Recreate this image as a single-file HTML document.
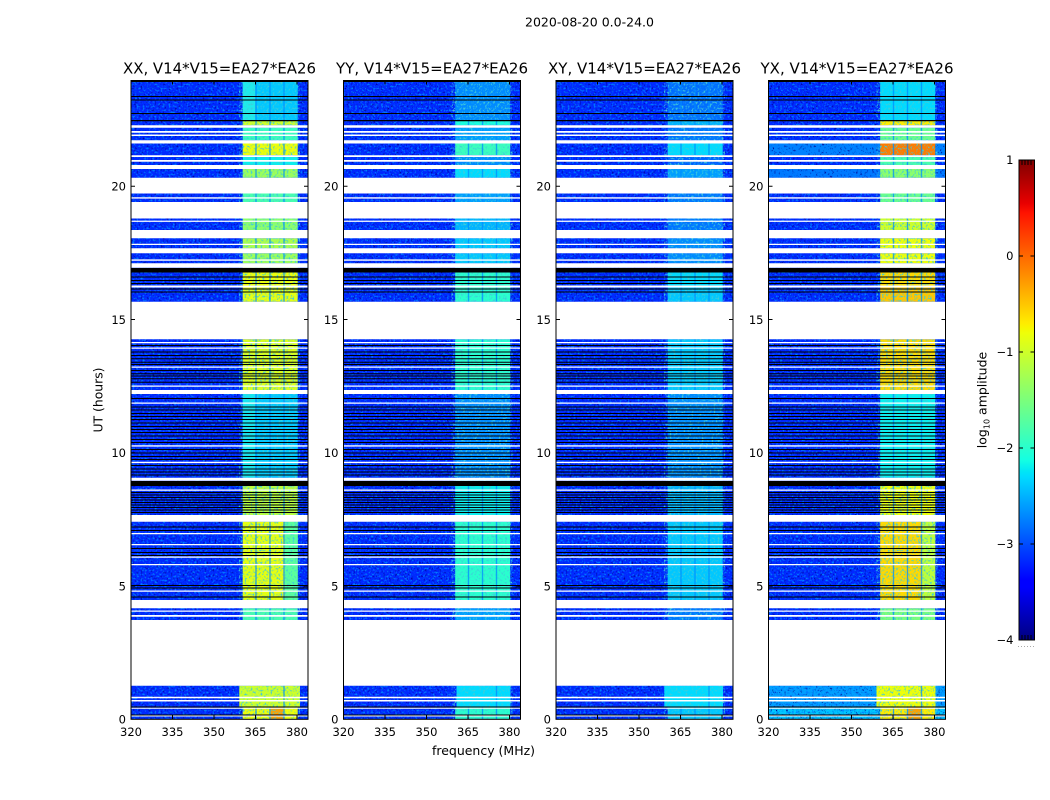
<!DOCTYPE html>
<html><head><meta charset="utf-8"><style>
html,body{margin:0;padding:0;background:#fff;}
svg{display:block;}
text{font-family:"DejaVu Sans","Liberation Sans",sans-serif;fill:#000;}
.tk{font-size:11.5px;}
</style></head><body>
<svg width="1050" height="800" viewBox="0 0 1050 800" xmlns="http://www.w3.org/2000/svg">
<defs>
<filter id="spk" x="0" y="0" width="1" height="1" color-interpolation-filters="sRGB">
<feTurbulence type="fractalNoise" baseFrequency="0.5" numOctaves="2" seed="3" result="t"/>
<feColorMatrix in="t" type="matrix" values="0 0 0 0 0  0 0 0 0 0  0 0 0 0 0.55  3.5 0 0 0 -2.0" result="d"/>
<feColorMatrix in="t" type="matrix" values="0 0 0 0 0  0 0 0 0 0.5  0 0 0 0 1  0 4 0 0 -2.05" result="l"/>
<feMerge><feMergeNode in="d"/><feMergeNode in="l"/></feMerge>
</filter>
<filter id="bspk" x="0" y="0" width="1" height="1" color-interpolation-filters="sRGB">
<feTurbulence type="fractalNoise" baseFrequency="0.5" numOctaves="2" seed="9" result="t"/>
<feColorMatrix in="t" type="matrix" values="0 0 0 0 0.25  0 0 0 0 0.8  0 0 0 0 0.85  4 0 0 0 -2.05"/>
</filter>
<linearGradient id="jet" x1="0" y1="1" x2="0" y2="0">
<stop offset="0" stop-color="#000080"/>
<stop offset="0.11" stop-color="#0000ff"/>
<stop offset="0.125" stop-color="#0000ff"/>
<stop offset="0.34" stop-color="rgb(0,219,255)"/>
<stop offset="0.35" stop-color="rgb(0,229,247)"/>
<stop offset="0.375" stop-color="rgb(20,255,226)"/>
<stop offset="0.64" stop-color="rgb(239,255,8)"/>
<stop offset="0.65" stop-color="rgb(247,246,0)"/>
<stop offset="0.66" stop-color="rgb(255,236,0)"/>
<stop offset="0.89" stop-color="rgb(255,19,0)"/>
<stop offset="0.91" stop-color="rgb(232,0,0)"/>
<stop offset="1" stop-color="rgb(128,0,0)"/>
</linearGradient>
<g id="ov">
<path fill="#fff" d="M0 125.3h177v2.4H0z M0 131h177v1.7H0z M0 134.5h177v1.5H0z M0 140.2h177v3.3H0z M0 155.2h177v1.8H0z M0 160h177v1.7H0z M0 165h177v4H0z M0 177.7h177v15.8H0z M0 197.3h177v1.3H0z M0 202h177v16.5H0z M0 220.6h177v1.3H0z M0 230h177v8.3H0z M0 243.7h177v1.3H0z M0 248.3h177v5H0z M0 259.4h177v1.3H0z M0 263.3h177v4.4H0z M0 285.5h177v2H0z M0 301.7h177v37.6H0z M0 342h177v1.3H0z M0 347.5h177v1.3H0z M0 366.5h177v1.3H0z M0 385.5h177v1.3H0z M0 390h177v4H0z M0 402.5h177v1.3H0z M0 445.3h177v1.3H0z M0 461.8h177v1.3H0z M0 477.7h177v3H0z M0 489.5h177v1.3H0z M0 515h177v6.7H0z M0 533h177v1.3H0z M0 544h177v1.3H0z M0 556.5h177v1.3H0z M0 564h177v1.3H0z M0 590.5h177v1.3H0z M0 600h177v8.3H0z M0 610.5h177v1.3H0z M0 615h177v1.7H0z M0 620h177v65.7H0z M0 696.7h177v1.6H0z M0 700h177v1.5H0z M0 707.7h177v1H0z M0 715.5h177v1H0z"/>
<path fill="#000" d="M0 81h177v1H0z M0 96h177v1H0z M0 99.5h177v1H0z M0 113h177v1H0z M0 120h177v1.3H0z M0 268h177v4.5H0z M0 276.5h177v1H0z M0 280h177v1H0z M0 283h177v1H0z M0 288.5h177v1H0z M0 291.5h177v1H0z M0 345h177v1H0z M0 351.5h177v1H0z M0 355h177v1H0z M0 358.3h177v1H0z M0 361.7h177v1H0z M0 364h177v1H0z M0 370h177v1H0z M0 373.3h177v1H0z M0 375.5h177v1H0z M0 378.3h177v1H0z M0 381.7h177v1H0z M0 398h177v1H0z M0 406.5h177v1H0z M0 409.5h177v1H0z M0 413h177v1H0z M0 416h177v1H0z M0 419h177v1H0z M0 422.5h177v1H0z M0 426h177v1H0z M0 429h177v1H0z M0 432h177v1H0z M0 435.5h177v1H0z M0 439h177v1H0z M0 442h177v1H0z M0 449h177v1H0z M0 452.5h177v1H0z M0 456h177v1H0z M0 459h177v1H0z M0 465h177v1H0z M0 468.5h177v1H0z M0 471.5h177v1H0z M0 474.5h177v1H0z M0 481h177v5H0z M0 492h177v1H0z M0 494.5h177v1H0z M0 497h177v1H0z M0 499.5h177v1H0z M0 502h177v1H0z M0 504.5h177v1H0z M0 507h177v1H0z M0 509.5h177v1H0z M0 512h177v1H0z M0 526.5h177v1H0z M0 530h177v1H0z M0 548h177v1H0z M0 552h177v1H0z M0 555h177v1H0z M0 585h177v1H0z M0 587.5h177v1H0z M0 596.5h177v1H0z M0 706.5h177v1H0z M0 714.5h177v1H0z"/>
</g>
<path id="sep" fill="rgba(0,140,255,0.75)" d="M124.3 80.5h1.4v605h-1.4z M138.3 80.5h1.4v605h-1.4z M152.3 80.5h1.4v638.8h-1.4z M124.3 707.5h1.4v11.8h-1.4z M138.3 707.5h1.4v11.8h-1.4z"/>
<g id="frm">
<rect x="0" y="80.5" width="177" height="638.8" fill="none" stroke="#000" stroke-width="1"/>
<path d="M0 586.05h4M173 586.05h4M0 452.8h4M173 452.8h4M0 319.55h4M173 319.55h4M0 186.3h4M173 186.3h4M41.5 719.3v-4M83 719.3v-4M124.5 719.3v-4M166 719.3v-4M41.5 80.5v4M83 80.5v4M124.5 80.5v4M166 80.5v4" stroke="#000" stroke-width="1" fill="none"/>
<g class="tk" text-anchor="end">
<text x="-5" y="723.6">0</text>
<text x="-5" y="590.4">5</text>
<text x="-5" y="457.1">10</text>
<text x="-5" y="323.9">15</text>
<text x="-5" y="190.6">20</text>
</g>
<g class="tk" text-anchor="middle">
<text x="0" y="736">320</text>
<text x="41.5" y="736">335</text>
<text x="83" y="736">350</text>
<text x="124.5" y="736">365</text>
<text x="166" y="736">380</text>
</g>
</g>
</defs>

<text x="589.5" y="26.5" font-size="12.5" text-anchor="middle" textLength="129" lengthAdjust="spacingAndGlyphs">2020-08-20 0.0-24.0</text>

<g transform="translate(131,0)">
<rect x="0" y="80.5" width="177" height="638.8" fill="rgb(0,40,255)"/>
<rect x="0" y="80.5" width="177" height="638.8" fill="#000" filter="url(#spk)"/>
<rect x="111.7" y="80.5" width="55" height="40" fill="rgb(0,199,255)"/>
<rect x="111.7" y="80.5" width="12.6" height="40" fill="rgb(30,235,235)"/>
<rect x="111.7" y="120.5" width="55" height="4.8" fill="rgb(206,255,41)"/>
<rect x="111.7" y="127.7" width="55" height="12.5" fill="rgb(58,255,189)"/>
<rect x="111.7" y="143.5" width="55" height="11.7" fill="rgb(239,255,8)"/>
<rect x="111.7" y="157" width="55" height="8" fill="rgb(8,240,239)"/>
<rect x="111.7" y="169" width="55" height="8.7" fill="rgb(156,255,90)"/>
<rect x="111.7" y="193.5" width="55" height="8.5" fill="rgb(74,255,173)"/>
<rect x="111.7" y="218.5" width="55" height="11.5" fill="rgb(140,255,107)"/>
<rect x="111.7" y="238.3" width="55" height="10" fill="rgb(173,255,74)"/>
<rect x="111.7" y="253.3" width="55" height="10" fill="rgb(156,255,90)"/>
<rect x="111.7" y="267.7" width="55" height="19.8" fill="rgb(239,255,8)"/>
<rect x="111.7" y="287.5" width="55" height="14.2" fill="rgb(230,255,16)"/>
<rect x="111.7" y="339.3" width="55" height="50.7" fill="rgb(222,255,25)"/>
<rect x="111.7" y="394" width="55" height="83.7" fill="rgb(0,199,255)"/>
<rect x="111.7" y="394" width="12.6" height="83.7" fill="rgb(20,230,240)"/>
<rect x="111.7" y="480.7" width="55" height="34.3" fill="rgb(189,255,58)"/>
<rect x="111.7" y="521.7" width="55" height="78.3" fill="rgb(230,255,16)"/>
<rect x="153.7" y="521.7" width="13" height="78.3" fill="rgb(90,255,156)"/>
<rect x="111.7" y="608.3" width="55" height="11.7" fill="rgb(74,255,173)"/>
<rect x="108.3" y="685.7" width="60.7" height="21.8" fill="rgb(206,255,41)"/>
<rect x="111.7" y="707.5" width="55" height="11.8" fill="rgb(239,255,8)"/>
<rect x="139.7" y="707.5" width="12.6" height="11.8" fill="rgb(255,161,0)"/>
<rect x="108.3" y="80.5" width="60.7" height="638.8" fill="#000" filter="url(#bspk)"/>
<use href="#sep"/>
<use href="#ov"/>
<use href="#frm"/>
<text x="88.5" y="73.5" font-size="15" text-anchor="middle" textLength="193" lengthAdjust="spacingAndGlyphs">XX, V14*V15=EA27*EA26</text>
</g>

<g transform="translate(343.5,0)">
<rect x="0" y="80.5" width="177" height="638.8" fill="rgb(0,40,255)"/>
<rect x="0" y="80.5" width="177" height="638.8" fill="#000" filter="url(#spk)"/>
<rect x="111.7" y="80.5" width="55" height="40" fill="rgb(0,138,255)"/>
<rect x="111.7" y="120.5" width="55" height="4.8" fill="rgb(25,255,222)"/>
<rect x="111.7" y="127.7" width="55" height="12.5" fill="rgb(0,158,255)"/>
<rect x="111.7" y="143.5" width="55" height="11.7" fill="rgb(58,255,189)"/>
<rect x="111.7" y="157" width="55" height="8" fill="rgb(0,138,255)"/>
<rect x="111.7" y="169" width="55" height="8.7" fill="rgb(0,219,255)"/>
<rect x="111.7" y="193.5" width="55" height="8.5" fill="rgb(0,158,255)"/>
<rect x="111.7" y="218.5" width="55" height="11.5" fill="rgb(0,179,255)"/>
<rect x="111.7" y="238.3" width="55" height="10" fill="rgb(0,199,255)"/>
<rect x="111.7" y="253.3" width="55" height="10" fill="rgb(0,199,255)"/>
<rect x="111.7" y="267.7" width="55" height="19.8" fill="rgb(41,255,206)"/>
<rect x="111.7" y="287.5" width="55" height="14.2" fill="rgb(41,255,206)"/>
<rect x="111.7" y="339.3" width="55" height="50.7" fill="rgb(41,255,206)"/>
<rect x="111.7" y="394" width="55" height="83.7" fill="rgb(0,138,255)"/>
<rect x="111.7" y="480.7" width="55" height="34.3" fill="rgb(8,240,239)"/>
<rect x="111.7" y="521.7" width="55" height="78.3" fill="rgb(41,255,206)"/>
<rect x="111.7" y="608.3" width="55" height="11.7" fill="rgb(0,158,255)"/>
<rect x="113" y="685.7" width="54" height="21.8" fill="rgb(0,219,255)"/>
<rect x="111.7" y="707.5" width="55" height="11.8" fill="rgb(41,255,206)"/>
<rect x="108.3" y="80.5" width="60.7" height="638.8" fill="#000" filter="url(#bspk)"/>
<use href="#sep"/>
<use href="#ov"/>
<use href="#frm"/>
<text x="88.5" y="73.5" font-size="15" text-anchor="middle" textLength="192" lengthAdjust="spacingAndGlyphs">YY, V14*V15=EA27*EA26</text>
</g>

<g transform="translate(556,0)">
<rect x="0" y="80.5" width="177" height="638.8" fill="rgb(0,40,255)"/>
<rect x="0" y="80.5" width="177" height="638.8" fill="#000" filter="url(#spk)"/>
<rect x="111.7" y="80.5" width="55" height="40" fill="rgb(0,110,255)"/>
<rect x="111.7" y="120.5" width="55" height="4.8" fill="rgb(0,179,255)"/>
<rect x="111.7" y="127.7" width="55" height="12.5" fill="rgb(0,117,255)"/>
<rect x="111.7" y="143.5" width="55" height="11.7" fill="rgb(0,219,255)"/>
<rect x="111.7" y="157" width="55" height="8" fill="rgb(0,97,255)"/>
<rect x="111.7" y="169" width="55" height="8.7" fill="rgb(0,158,255)"/>
<rect x="111.7" y="193.5" width="55" height="8.5" fill="rgb(0,117,255)"/>
<rect x="111.7" y="218.5" width="55" height="11.5" fill="rgb(0,117,255)"/>
<rect x="111.7" y="238.3" width="55" height="10" fill="rgb(0,138,255)"/>
<rect x="111.7" y="253.3" width="55" height="10" fill="rgb(0,138,255)"/>
<rect x="111.7" y="267.7" width="55" height="19.8" fill="rgb(0,219,255)"/>
<rect x="111.7" y="287.5" width="55" height="14.2" fill="rgb(0,199,255)"/>
<rect x="111.7" y="339.3" width="55" height="50.7" fill="rgb(0,199,255)"/>
<rect x="111.7" y="394" width="55" height="83.7" fill="rgb(0,138,255)"/>
<rect x="111.7" y="480.7" width="55" height="34.3" fill="rgb(0,179,255)"/>
<rect x="111.7" y="521.7" width="55" height="78.3" fill="rgb(0,199,255)"/>
<rect x="111.7" y="608.3" width="55" height="11.7" fill="rgb(0,117,255)"/>
<rect x="108.3" y="685.7" width="58.7" height="21.8" fill="rgb(0,219,255)"/>
<rect x="111.7" y="707.5" width="55" height="11.8" fill="rgb(0,199,255)"/>
<rect x="108.3" y="80.5" width="60.7" height="638.8" fill="#000" filter="url(#bspk)"/>
<use href="#sep"/>
<use href="#ov"/>
<use href="#frm"/>
<text x="88.5" y="73.5" font-size="15" text-anchor="middle" textLength="193" lengthAdjust="spacingAndGlyphs">XY, V14*V15=EA27*EA26</text>
</g>

<g transform="translate(768.5,0)">
<rect x="0" y="80.5" width="177" height="638.8" fill="rgb(0,40,255)"/>
<rect x="0" y="143.5" width="177" height="11.7" fill="rgb(0,130,255)"/>
<rect x="0" y="169" width="177" height="8.7" fill="rgb(0,120,255)"/>
<rect x="0" y="685.7" width="177" height="21.8" fill="rgb(0,160,255)"/>
<rect x="0" y="707.5" width="177" height="11.8" fill="rgb(0,200,255)"/>
<rect x="0" y="80.5" width="177" height="638.8" fill="#000" filter="url(#spk)"/>
<rect x="111.7" y="80.5" width="55" height="40" fill="rgb(0,219,255)"/>
<rect x="111.7" y="120.5" width="55" height="4.8" fill="rgb(255,236,0)"/>
<rect x="111.7" y="127.7" width="55" height="12.5" fill="rgb(107,255,140)"/>
<rect x="111.7" y="143.5" width="55" height="11.7" fill="rgb(255,123,0)"/>
<rect x="111.7" y="157" width="55" height="8" fill="rgb(74,255,173)"/>
<rect x="111.7" y="169" width="55" height="8.7" fill="rgb(140,255,107)"/>
<rect x="111.7" y="193.5" width="55" height="8.5" fill="rgb(107,255,140)"/>
<rect x="111.7" y="218.5" width="55" height="11.5" fill="rgb(206,255,41)"/>
<rect x="111.7" y="238.3" width="55" height="10" fill="rgb(239,255,8)"/>
<rect x="111.7" y="253.3" width="55" height="10" fill="rgb(239,255,8)"/>
<rect x="111.7" y="267.7" width="55" height="19.8" fill="rgb(255,217,0)"/>
<rect x="111.7" y="287.5" width="55" height="14.2" fill="rgb(255,198,0)"/>
<rect x="111.7" y="339.3" width="55" height="50.7" fill="rgb(255,217,0)"/>
<rect x="111.7" y="394" width="55" height="83.7" fill="rgb(8,240,239)"/>
<rect x="111.7" y="480.7" width="55" height="34.3" fill="rgb(239,255,8)"/>
<rect x="111.7" y="521.7" width="55" height="78.3" fill="rgb(255,217,0)"/>
<rect x="153.7" y="521.7" width="13" height="78.3" fill="rgb(189,255,58)"/>
<rect x="111.7" y="608.3" width="55" height="11.7" fill="rgb(123,255,123)"/>
<rect x="108" y="685.7" width="59" height="21.8" fill="rgb(239,255,8)"/>
<rect x="111.7" y="707.5" width="55" height="11.8" fill="rgb(255,236,0)"/>
<rect x="139.7" y="707.5" width="12.6" height="11.8" fill="rgb(255,161,0)"/>
<rect x="108.3" y="80.5" width="60.7" height="638.8" fill="#000" filter="url(#bspk)"/>
<use href="#sep"/>
<use href="#ov"/>
<use href="#frm"/>
<text x="88.5" y="73.5" font-size="15" text-anchor="middle" textLength="193" lengthAdjust="spacingAndGlyphs">YX, V14*V15=EA27*EA26</text>
</g>

<text x="483.5" y="755" font-size="12.5" text-anchor="middle" textLength="103" lengthAdjust="spacingAndGlyphs">frequency (MHz)</text>
<text transform="translate(102.5,400) rotate(-90)" font-size="12.5" text-anchor="middle" textLength="65" lengthAdjust="spacingAndGlyphs">UT (hours)</text>

<rect x="1019" y="160" width="15.5" height="480" fill="url(#jet)"/>
<rect x="1019" y="160" width="15.5" height="480" fill="none" stroke="#000" stroke-width="1"/>
<path d="M1019 256h4M1030.5 256h4M1019 352h4M1030.5 352h4M1019 448h4M1030.5 448h4M1019 544h4M1030.5 544h4M1022 160v5M1025 160v5M1028 160v5M1031 160v5M1022 640v-5M1025 640v-5M1028 640v-5M1031 640v-5" stroke="#000" stroke-width="1" fill="none"/>
<g class="tk" text-anchor="end">
<text x="1013.5" y="164">1</text>
<text x="1013.5" y="260">0</text>
<text x="1013.5" y="356">−1</text>
<text x="1013.5" y="452">−2</text>
<text x="1013.5" y="548">−3</text>
<text x="1013.5" y="644">−4</text>
</g>
<path d="M1018 646.5h16" stroke="#aaa" stroke-width="1" stroke-dasharray="1,2" fill="none"/>
<text transform="translate(986.5,400) rotate(-90)" font-size="12.5" text-anchor="middle">log<tspan font-size="8" dy="3">10</tspan><tspan dy="-3"> amplitude</tspan></text>
</svg>
</body></html>
